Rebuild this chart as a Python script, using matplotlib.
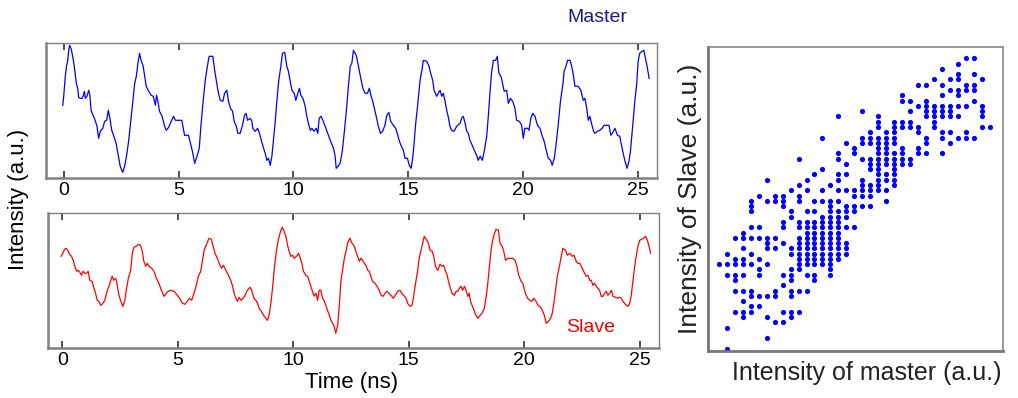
import matplotlib
matplotlib.use("Agg")
import matplotlib.pyplot as plt

plt.rcParams['font.family'] = ['Liberation Sans', 'DejaVu Sans']

# master intensity trace (time in ns, intensity a.u.)
master_t = [-0.04, 0.00, 0.07, 0.12, 0.17, 0.22, 0.26, 0.33, 0.39, 0.46, 0.55, 0.61, 0.65, 0.72, 0.80, 0.84,
            0.90, 0.94, 1.01, 1.09, 1.14, 1.19, 1.28, 1.38, 1.45, 1.52, 1.59, 1.70, 1.78, 1.87, 1.94, 2.01,
            2.09, 2.17, 2.28, 2.36, 2.46, 2.57, 2.65, 2.74, 2.83, 2.91, 3.00, 3.09, 3.16, 3.23, 3.30, 3.38,
            3.45, 3.52, 3.59, 3.70, 3.81, 3.90, 3.99, 4.04, 4.10, 4.17, 4.28, 4.38, 4.46, 4.57, 4.68, 4.78,
            4.86, 4.97, 5.14, 5.26, 5.43, 5.54, 5.62, 5.70, 5.80, 5.90, 5.97, 6.06, 6.16, 6.26, 6.33, 6.49,
            6.57, 6.64, 6.71, 6.81, 6.93, 7.00, 7.10, 7.17, 7.26, 7.35, 7.42, 7.51, 7.58, 7.68, 7.78, 7.87,
            7.94, 8.00, 8.12, 8.19,
            8.23, 8.33, 8.44, 8.52, 8.60, 8.70, 8.77, 8.84, 8.91, 8.99, 9.06, 9.13, 9.20, 9.28, 9.36, 9.45,
            9.52, 9.62, 9.71, 9.78, 9.85, 9.93, 10.03, 10.10, 10.19, 10.26, 10.32, 10.41, 10.51, 10.58, 10.65,
            10.73, 10.80, 10.90, 10.99, 11.06, 11.12, 11.20, 11.28, 11.38, 11.49, 11.60, 11.74, 11.81, 11.86,
            11.94, 12.03, 12.13, 12.22, 12.32, 12.39, 12.47, 12.54, 12.61, 12.73, 12.83, 12.93, 13.02, 13.12,
            13.22, 13.30, 13.38, 13.45, 13.55, 13.62, 13.69, 13.79, 13.88, 13.98, 14.06, 14.15, 14.23, 14.35,
            14.45, 14.54, 14.61, 14.68, 14.78, 14.86, 14.96, 15.04, 15.12, 15.19, 15.26, 15.32, 15.40, 15.51,
            15.59, 15.65, 15.80, 15.90, 15.97, 16.06, 16.12, 16.23, 16.30, 16.38, 16.45, 16.52, 16.59, 16.67,
            16.75, 16.81, 16.88, 16.99, 17.10,
            17.25, 17.32, 17.39, 17.47, 17.54, 17.61, 17.68, 17.78, 17.87, 17.97, 18.04, 18.13, 18.22, 18.31,
            18.41, 18.48, 18.55, 18.62, 18.70, 18.80, 18.87, 18.94, 19.03, 19.10, 19.17, 19.28, 19.35, 19.44,
            19.54, 19.64, 19.71, 19.83, 19.93, 20.00, 20.07, 20.19, 20.25, 20.33, 20.41, 20.51, 20.62, 20.73,
            20.83, 20.91, 21.00, 21.09, 21.19, 21.26, 21.35, 21.42, 21.52, 21.62, 21.73, 21.78, 21.86, 21.93,
            22.03, 22.10, 22.17, 22.25, 22.39, 22.51, 22.61, 22.68, 22.75, 22.83, 22.90, 22.97, 23.06, 23.12,
            23.23, 23.33, 23.43, 23.52, 23.73, 23.81, 23.88, 23.99, 24.10, 24.20, 24.28, 24.35, 24.42, 24.52,
            24.60, 24.67, 24.76, 24.86, 24.94, 25.00, 25.07, 25.17, 25.25, 25.32, 25.39, 25.48]
master_v = [73, 82, 102, 112, 117, 128, 133, 129, 122, 112, 95, 90, 81, 80, 80, 82,
            87, 80, 82, 88, 83, 68, 63, 57, 52, 40, 47, 50, 57, 58, 68, 60,
            48, 43, 35, 25, 12, 6, 12, 23, 38, 55, 75, 95, 102, 115, 125, 117,
            113, 103, 92, 87, 83, 82, 73, 83, 77, 67, 62, 53, 48, 51, 57, 62,
            58, 58, 58, 43, 43, 33, 25, 15, 22, 30, 52, 75, 98, 113, 122, 122,
            108, 98, 88, 78, 77, 85, 88, 77, 70, 67, 57, 52, 45, 45, 53, 63,
            65, 58, 60, 57,
            50, 47, 50, 45, 38, 30, 25, 18, 20, 13, 22, 38, 55, 78, 98, 112,
            125, 126, 112, 107, 98, 88, 85, 78, 85, 90, 83, 80, 72, 62, 55,
            48, 50, 47, 50, 45, 60, 62, 58, 52, 45, 38, 30, 23, 10,
            12, 15, 28, 48, 72, 92, 112, 115, 128, 123, 112, 100, 90, 85,
            85, 90, 82, 77, 67, 60, 52, 45, 47, 53, 63, 66, 57, 53,
            50, 43, 37, 33, 28, 20, 20, 13, 10, 20, 38, 55, 72, 98,
            108, 118, 117, 112, 105, 98, 88, 82, 85, 88, 82, 85, 78, 68,
            60, 52, 48, 47, 52,
            55, 60, 62, 55, 47, 45, 38, 33, 28, 23, 18, 22, 18, 28,
            42, 62, 85, 105, 118, 118, 122, 105, 102, 95, 87, 88, 75, 80,
            77, 70, 58, 57, 53, 40, 50, 50, 48, 60, 65, 62, 53, 50,
            42, 37, 28, 20, 18, 13, 20, 32, 53, 77, 95, 107, 112, 118,
            118, 113, 105, 92, 92, 88, 78, 80, 72, 58, 62, 55, 47, 45,
            47, 48, 50, 53, 53, 43, 45, 50, 43, 42, 33, 25, 18, 10,
            17, 28, 52, 78, 95, 117, 125, 127, 128, 120, 112, 100]

# slave intensity trace
slave_t = [-0.05, 0.02, 0.10, 0.17, 0.24, 0.31, 0.40, 0.47, 0.54, 0.62, 0.69, 0.76, 0.83, 0.90, 0.98, 1.05,
           1.12, 1.19, 1.29, 1.37, 1.44, 1.51, 1.58, 1.66, 1.76, 1.84, 1.95, 2.02, 2.10, 2.16, 2.23, 2.31,
           2.38, 2.45, 2.52, 2.62, 2.71, 2.78, 2.86, 2.96, 3.03, 3.10, 3.20, 3.29, 3.39, 3.46, 3.53, 3.61,
           3.68, 3.75, 3.87, 3.97, 4.04, 4.11, 4.18, 4.29, 4.40, 4.50, 4.59, 4.69, 4.84, 4.98, 5.08, 5.20,
           5.31, 5.41, 5.51, 5.60, 5.70, 5.80, 5.89, 5.99, 6.06, 6.14, 6.21, 6.28, 6.35, 6.45, 6.53, 6.61,
           6.71, 6.79, 6.89, 6.97, 7.08, 7.19, 7.29, 7.36, 7.44, 7.51, 7.58, 7.65, 7.74, 7.83, 7.91, 8.01,
           8.12, 8.20,
           8.23, 8.30, 8.38, 8.45, 8.52, 8.59, 8.66, 8.74, 8.81, 8.88, 8.95, 9.03, 9.10, 9.17, 9.24, 9.32,
           9.39, 9.46, 9.53, 9.60, 9.68, 9.75, 9.82, 9.89, 9.97, 10.04, 10.14, 10.23, 10.30, 10.37, 10.44,
           10.54, 10.62, 10.69, 10.76, 10.83, 10.90, 10.98, 11.05, 11.12, 11.19, 11.27, 11.34, 11.41, 11.48,
           11.56, 11.63, 11.70, 11.77, 11.84, 11.92, 11.99, 12.06, 12.13, 12.21, 12.28, 12.35, 12.45, 12.54,
           12.64, 12.71, 12.78, 12.86, 12.93, 13.00, 13.07, 13.14, 13.22, 13.29, 13.36, 13.43, 13.54, 13.62,
           13.72, 13.80, 13.89, 13.97, 14.05, 14.13, 14.23, 14.33, 14.42, 14.52, 14.62, 14.69, 14.78, 14.88,
           14.95, 15.05, 15.14, 15.21, 15.28, 15.38, 15.45, 15.53, 15.60, 15.67, 15.78, 15.85, 15.92, 16.01,
           16.08, 16.15, 16.25, 16.35, 16.43, 16.51, 16.58, 16.66, 16.72, 16.80, 16.87, 16.97, 17.05,
           17.12, 17.19, 17.26, 17.33, 17.41, 17.48, 17.55, 17.62, 17.67, 17.74, 17.84, 17.91, 17.99, 18.09,
           18.17, 18.27, 18.35, 18.42, 18.49, 18.56, 18.63, 18.71, 18.78, 18.88, 18.95, 19.04, 19.11, 19.19,
           19.29, 19.39, 19.50, 19.60, 19.68, 19.76, 19.86, 19.94, 20.01, 20.08, 20.15, 20.23, 20.33, 20.41,
           20.51, 20.59, 20.66, 20.73, 20.80, 20.88, 20.95, 21.05, 21.14, 21.21, 21.28, 21.35, 21.43, 21.53,
           21.60, 21.67, 21.79, 21.86, 21.96, 22.08, 22.15, 22.25, 22.32, 22.40, 22.51, 22.61, 22.68, 22.76,
           22.83, 22.90, 22.97, 23.04, 23.12, 23.19, 23.26, 23.33, 23.41, 23.48, 23.55, 23.62, 23.70, 23.77,
           23.84, 23.95, 24.05, 24.13, 24.20, 24.27, 24.34, 24.42, 24.49, 24.56, 24.63, 24.71, 24.78, 24.85,
           24.92, 25.00, 25.07, 25.17, 25.25, 25.33, 25.40, 25.47]
slave_v = [92, 95, 99, 100, 98, 94, 92, 88, 82, 77, 78, 76, 73, 77, 75, 75,
           77, 68, 67, 60, 55, 48, 47, 43, 45, 48, 58, 62, 68, 72, 68, 70,
           63, 53, 48, 42, 48, 60, 70, 78, 95, 101, 102, 104, 103, 97, 87, 82,
           85, 82, 80, 77, 72, 68, 65, 58, 52, 55, 57, 58, 57, 53, 50, 45,
           44, 47, 50, 48, 55, 63, 72, 77, 87, 98, 102, 106, 110, 109, 102, 95,
           90, 85, 80, 83, 78, 73, 68, 63, 55, 50, 47, 51, 48, 50, 53, 58,
           61, 58,
           55, 50, 48, 45, 40, 38, 35, 32, 30, 28, 33, 45, 60, 78, 92, 105,
           112, 118, 121, 117, 112, 103, 97, 92, 93, 90, 92, 95, 90, 85, 77,
           73, 72, 67, 62, 57, 52, 55, 48, 58, 58, 50, 47, 43, 38,
           33, 28, 25, 22, 15, 23, 42, 67, 78, 90, 97, 105, 110, 105,
           102, 97, 92, 87, 90, 88, 85, 83, 78, 77, 72, 67, 65, 62,
           58, 53, 52, 55, 57, 55, 53, 50, 53, 57, 58, 55, 53, 50,
           45, 42, 43, 52, 63, 77, 90, 98, 105, 112, 108, 105, 98, 97,
           92, 82, 78, 84, 82, 83, 78, 73, 67, 60, 55, 53, 57,
           57, 60, 62, 58, 62, 58, 52, 55, 47, 43, 37, 33, 30, 33,
           35, 40, 52, 65, 82, 98, 108, 115, 119, 118, 105, 102, 97, 88,
           90, 90, 90, 88, 82, 73, 67, 65, 58, 53, 50, 48, 47, 50,
           47, 43, 42, 40, 37, 32, 25, 27, 30, 35, 45, 58, 72, 83,
           92, 100, 98, 93, 95, 92, 93, 87, 85, 85, 80, 75, 72, 73,
           68, 68, 63, 65, 62, 60, 58, 52, 52, 55, 57, 53, 55, 58,
           52, 51, 50, 51, 50, 47, 45, 43, 42, 45, 53, 68, 82, 93,
           102, 108, 109, 110, 112, 108, 102, 95]

# scatter: quantised slave level -> quantised master levels present
slave_cols_by_row = {
    55: [31, 32], 54: [30], 53: [28], 52: [30, 32], 51: [27, 29, 30, 33],
    50: [25, 26, 28, 31, 32], 49: [29, 30, 31, 32], 48: [23, 28, 30], 47: [23, 24, 26, 32],
    46: [25, 26, 27, 28, 29, 30, 31, 33], 45: [18, 24, 26, 27, 28, 29, 33],
    44: [15, 20, 26, 27, 28, 29, 30, 33], 43: [20, 22, 23, 24, 27],
    42: [20, 22, 23, 24, 25, 27, 33, 34], 41: [19, 21, 22, 25, 28, 29, 31],
    40: [13, 18, 19, 20, 21, 22, 26, 28, 30, 31, 32], 39: [16, 18, 19, 20, 21, 22, 26, 29],
    38: [17, 20, 21, 23, 25], 37: [15, 17, 20, 21, 22, 23, 25, 26, 28],
    36: [10, 15, 18, 19, 20, 21, 22, 23, 24], 35: [16, 19, 20, 21, 22, 23, 24],
    34: [13, 19, 20, 22], 33: [12, 15, 16, 20, 21, 22], 32: [6, 11, 15, 18, 20, 21, 22],
    31: [10, 14, 18, 19, 20, 22], 30: [9, 11, 13, 15, 16, 17, 18, 19, 20, 21],
    29: [5, 7, 8, 10, 17, 18, 19], 28: [4, 6, 7, 8, 10, 12, 13, 14, 15, 21],
    27: [4, 8, 14, 16, 17, 18, 19], 26: [4, 9, 11, 12, 14, 15, 16, 17],
    25: [9, 13, 14, 15, 16], 24: [8, 10, 11, 12, 13, 14, 15],
    23: [4, 5, 8, 10, 11, 12, 13, 14, 15, 16, 17], 22: [3, 11, 12, 13, 14, 15],
    21: [2, 3, 4, 5, 6, 7, 10, 11, 12, 13, 14, 15], 20: [6, 8, 10, 11, 12, 13, 14, 15, 16],
    19: [3, 6, 7, 9, 10, 11, 12, 13, 14, 15, 16], 18: [1, 4, 9, 10, 11, 12, 13, 14, 15, 16],
    17: [2, 3, 5, 10, 11, 12, 13, 14, 15], 16: [0, 1, 2, 3, 4, 6, 10, 11, 12, 13, 14],
    15: [5, 9, 10, 14], 14: [1, 2, 3, 5, 8, 9, 11, 12, 14], 13: [2, 9, 12], 12: [8],
    11: [2, 3, 4, 7, 9, 10, 11], 10: [4, 5, 6, 7, 9], 9: [3], 8: [4, 5],
    7: [2, 3, 4, 8, 9, 10], 6: [3, 6, 9], 5: [7, 8], 4: [1], 2: [6], 0: [1],
}

time_ticks = [0, 5, 10, 15, 20, 25]

sc_x = []
sc_y = []
for row, cols in slave_cols_by_row.items():
    for c in cols:
        sc_x.append(c)
        sc_y.append(row)

fig = plt.figure(figsize=(10.18, 3.98), dpi=100)

def style_time_axes(ax):
    for s in ax.spines.values():
        s.set_color('#808080')
        s.set_linewidth(1.0)
    ax.spines['bottom'].set_linewidth(1.8)
    ax.spines['left'].set_linewidth(1.8)
    ax.set_xticks(time_ticks)
    ax.set_yticks([])
    ax.tick_params(axis='x', direction='in', length=5, width=1.2, color='#333333',
                   top=True, labelsize=14, pad=3)

ax1 = fig.add_axes([0.0452, 0.552, 0.5997, 0.3407])
ax1.plot(master_t, master_v, color='#0000ff', lw=0.9)
ax1.set_xlim(-0.77, 25.8)
ax1.set_ylim(0, 135.6)
style_time_axes(ax1)

ax2 = fig.add_axes([0.0476, 0.1249, 0.5997, 0.3392])
ax2.plot(slave_t, slave_v, color='#ff0000', lw=0.9)
ax2.set_xlim(-0.6, 25.83)
ax2.set_ylim(0, 135)
style_time_axes(ax2)

ax3 = fig.add_axes([0.6952, 0.1181, 0.2901, 0.7631])
ax3.scatter(sc_x, sc_y, s=14, color='#0000ff', linewidths=0)
ax3.set_xlim(-1.42, 35.7)
ax3.set_ylim(-0.45, 57.1)
ax3.set_xticks([])
ax3.set_yticks([])
for s in ax3.spines.values():
    s.set_color('#888888')
    s.set_linewidth(1.2)
ax3.spines['left'].set_linewidth(2.0)
ax3.spines['bottom'].set_linewidth(2.0)
ax3.spines['left'].set_color('#777777')
ax3.spines['bottom'].set_color('#777777')

fig.text(0.345, 0.038, 'Time (ns)', fontsize=16, ha='center', va='center')
fig.text(0.851, 0.062, 'Intensity of master (a.u.)', fontsize=18, ha='center', va='center',
         color='#222222')
fig.text(0.678, 0.5, 'Intensity of Slave (a.u.)', rotation=90, fontsize=19, ha='center',
         va='center', color='#222222')
fig.text(0.018, 0.5, 'Intensity (a.u.)', rotation=90, fontsize=16, ha='center', va='center')
fig.text(0.587, 0.957, 'Master', fontsize=14, color='#1a1a80', ha='center', va='center')
fig.text(0.58, 0.176, 'Slave', fontsize=14, color='#ff0000', ha='center', va='center')

plt.savefig('out.png', dpi=100)
